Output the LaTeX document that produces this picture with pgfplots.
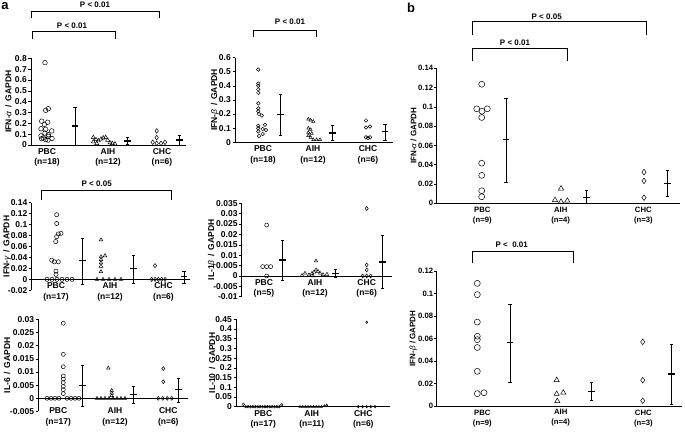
\documentclass[border=0pt]{standalone}
\usepackage{fontspec}
\setmainfont{Liberation Sans}
\usepackage{pgfplots}
\pgfplotsset{compat=1.18}
\newcommand{\gr}[1]{{\mdseries\itshape #1}}
\pgfplotsset{
 panel/.style={scale only axis, clip=false, anchor=south west,
   axis x line=middle, axis y line=left,
   axis line style={-, line width=0.6pt, black},
   hide obscured x ticks=false, hide obscured y ticks=false,
   xtick style={draw=none}, ytick style={line width=0.6pt, black},
   tick align=outside, major tick length=2.5pt, scaled ticks=false,
   /pgf/number format/assume math mode=true,
   xticklabel style={align=center, font=\fontsize{8.5}{10.3}\selectfont\bfseries, inner sep=1pt},
   yticklabel style={font=\fontsize{8.5}{10}\selectfont\bfseries, inner sep=1.5pt},
   ylabel style={font=\fontsize{8.5}{10}\selectfont\bfseries, anchor=center}},
 bpanel/.style={panel,
   xticklabel style={font=\fontsize{7.7}{10}\selectfont\bfseries},
   yticklabel style={font=\fontsize{7.7}{10}\selectfont\bfseries, inner sep=0.8pt},
   ylabel style={font=\fontsize{8}{10}\selectfont\bfseries}},
 pbc/.style={only marks, mark=o, black, mark options={line width=0.5pt}},
 aih/.style={only marks, mark=triangle, black, mark options={line width=0.5pt}},
 chc/.style={only marks, mark=diamond, black, mark options={line width=0.5pt}},
 sd/.style={black, only marks, mark=-, mark size=3.3pt, mark options={line width=1.1pt},
   error bars/y dir=both, error bars/y explicit,
   error bars/error bar style={line width=0.6pt},
   error bars/error mark options={rotate=90, line width=0.6pt, mark size=1.6pt}},
}
\begin{document}
\begin{tikzpicture}
\useasboundingbox (0pt,0pt) rectangle (685pt,431pt);

% ---------- a1 IFN-alpha
\begin{axis}[panel, at={(31pt,286pt)}, width=155pt, height=86.7pt,
  xmin=31, xmax=186, ymin=0, ymax=0.8,
  ytick={0,0.1,0.2,0.3,0.4,0.5,0.6,0.7,0.8}, yticklabels={0,0.1,0.2,0.3,0.4,0.5,0.6,0.7,0.8},
  xtick={47,108,162}, xticklabels={{PBC\\(n=18)},{AIH\\(n=12)},{CHC\\(n=6)}},
  ylabel={IFN-\gr{α} \,/\, GAPDH}, ylabel style={at={(axis description cs:-0.146,0.5)}}]
\addplot[pbc, mark size=2.3pt] coordinates {(45,0.76) (48.3,0.335) (45.7,0.32) (41.7,0.22) (47.7,0.21) (44.3,0.19) (41,0.15) (45.7,0.145) (51.7,0.13) (45,0.11) (48.3,0.095) (41,0.085) (48.3,0.08) (43.3,0.065) (41.7,0.058) (45.7,0.05) (52,0.06) (48,0.045)};
\addplot[aih, mark size=2.3pt] coordinates {(93.3,0.07) (96,0.05) (93.3,0.03) (98.3,0.04) (101,0.055) (103.3,0.065) (105.7,0.07) (107.7,0.045) (110,0.02) (112.3,0.015) (115,0.01) (96.7,0.015)};
\addplot[chc, mark size=2.3pt] coordinates {(156.7,0.13) (156.7,0.068) (152.7,0.025) (156.7,0.015) (161,0.015) (165,0.025)};
\addplot[sd] coordinates {(75,0.175) += (0,0.175) -= (0,0.175) (127.7,0.037) += (0,0.031) -= (0,0.031) (179.3,0.046) += (0,0.046) -= (0,0.046)};
\end{axis}

% ---------- a2 IFN-beta
\begin{axis}[panel, at={(235pt,288.7pt)}, width=158pt, height=84.7pt,
  xmin=235, xmax=393, ymin=0, ymax=0.6,
  ytick={0,0.1,0.2,0.3,0.4,0.5,0.6}, yticklabels={0,0.1,0.2,0.3,0.4,0.5,0.6},
  xtick={263,313,368}, xticklabels={{PBC\\(n=18)},{AIH\\(n=12)},{CHC\\(n=6)}},
  ylabel={IFN-\gr{β} \,/\, GAPDH}, ylabel style={at={(axis description cs:-0.127,0.5)}}]
\addplot[pbc, mark size=1.8pt] coordinates {(258.3,0.515) (258.3,0.417) (258.3,0.40) (258.3,0.375) (258.3,0.35) (258.3,0.276) (258.3,0.24) (258.3,0.22) (259,0.2) (261.7,0.19) (258.3,0.117) (265,0.124) (258.3,0.1) (262.7,0.094) (266,0.087) (258.3,0.077) (262.7,0.059) (259,0.045)};
\addplot[aih, mark size=1.8pt] coordinates {(308.3,0.164) (310.7,0.157) (313.3,0.148) (308.3,0.1) (310.7,0.09) (308.3,0.07) (311.7,0.063) (308.3,0.047) (310.7,0.035) (313.3,0.019) (316.7,0.019) (320,0.019)};
\addplot[pbc, mark size=1.8pt] coordinates {(366,0.155) (366,0.105) (370,0.112) (366,0.035) (370,0.035) (368,0.03)};
\addplot[sd] coordinates {(280.7,0.2) += (0,0.14) -= (0,0.153) (332.7,0.066) += (0,0.051) -= (0,0.05) (385,0.077) += (0,0.052) -= (0,0.061)};
\end{axis}

% ---------- a3 IFN-gamma
\begin{axis}[panel, at={(31.5pt,140.7pt)}, width=158.5pt, height=87.6pt,
  xmin=31.5, xmax=190, ymin=-0.02, ymax=0.14,
  ytick={-0.02,0,0.02,0.04,0.06,0.08,0.1,0.12,0.14}, yticklabels={-0.02,0,0.02,0.04,0.06,0.08,0.1,0.12,0.14},
  xtick={56,110,163.5}, xticklabels={{PBC\\(n=17)},{AIH\\(n=12)},{CHC\\(n=6)}},
  ylabel={IFN-\gr{γ} \,/\, GAPDH}, ylabel style={at={(axis description cs:-0.154,0.5)}}]
\addplot[pbc, mark size=2.1pt] coordinates {(56.7,0.118) (56.7,0.102) (58.3,0.083) (61,0.084) (56.7,0.078) (55.7,0.069) (51.7,0.035) (54.3,0.032) (58.3,0.032) (56,0.015) (56,0.009) (47,0) (52,0) (57,0) (62,0) (67,0) (72,0)};
\addplot[aih, mark size=2.1pt] coordinates {(101,0.072) (101,0.041) (105,0.043) (101,0.036) (101,0.030) (101,0.024) (101,0.014) (97,0) (103,0) (109,0) (115,0) (121,0)};
\addplot[chc, mark size=2.1pt] coordinates {(155,0.025) (151.7,0) (155,0) (158.3,0) (161.7,0) (165,0)};
\addplot[sd] coordinates {(82.5,0.034) += (0,0.041) -= (0,0.043) (133.3,0.02) += (0,0.024) -= (0,0.027) (184,0.005) += (0,0.009) -= (0,0.012)};
\end{axis}

% ---------- a4 IL-1beta
\begin{axis}[panel, at={(241.7pt,134.3pt)}, width=150.3pt, height=93.4pt,
  xmin=241.7, xmax=392, ymin=-0.01, ymax=0.035,
  ytick={-0.01,-0.005,0,0.005,0.01,0.015,0.02,0.025,0.03,0.035}, yticklabels={-0.01,-0.005,0,0.005,0.01,0.015,0.02,0.025,0.03,0.035},
  xtick={264,315,366.7}, xticklabels={{PBC\\(n=5)},{AIH\\(n=12)},{CHC\\(n=6)}},
  ylabel={IL-1\gr{β} \,/\, GAPDH}, ylabel style={at={(axis description cs:-0.198,0.5)}}]
\addplot[pbc, mark size=2pt] coordinates {(266.7,0.0245) (262.7,0.0045) (266.7,0.0045) (270.7,0.0045) (266.7,0)};
\addplot[aih, mark size=2pt] coordinates {(316,0.0072) (316,0.0029) (314,0.0019) (318,0.0022) (312,0.0012) (320,0.0013) (305,0.0013) (309,0.0005) (323,0.0006) (327,0.0008) (302,0.0002) (313,0)};
\addplot[chc, mark size=2pt] coordinates {(366.7,0.0325) (366.7,0.0053) (366.7,0.0029) (362.7,0) (366.7,0) (370.7,0)};
\addplot[sd] coordinates {(282.7,0.0077) += (0,0.0095) -= (0,0.0097) (335.7,0.0013) += (0,0.0019) -= (0,0.0021) (382.7,0.0067) += (0,0.0128) -= (0,0.0125)};
\end{axis}

% ---------- a5 IL-6
\begin{axis}[panel, at={(38.3pt,19.5pt)}, width=150pt, height=92.2pt,
  xmin=38.3, xmax=188.3, ymin=-0.005, ymax=0.03,
  ytick={-0.005,0,0.005,0.01,0.015,0.02,0.025,0.03}, yticklabels={-0.005,0,0.005,0.01,0.015,0.02,0.025,0.03},
  xtick={58.3,115,168.3}, xticklabels={{PBC\\(n=17)},{AIH\\(n=12)},{CHC\\(n=6)}},
  xticklabel style={yshift=-6pt},
  ylabel={IL-6 \,/\, GAPDH}, ylabel style={at={(axis description cs:-0.207,0.5)}}]
\addplot[pbc, mark size=2pt] coordinates {(63.3,0.0285) (63.3,0.0167) (63.3,0.012) (63.3,0.0085) (63.3,0.0073) (63.3,0.006) (63.3,0.0045) (63.3,0.0033) (63.3,0.0018) (47,0) (51,0) (55,0) (59,0) (67,0) (71,0) (75,0) (79,0)};
\addplot[aih, mark size=2pt] coordinates {(108.3,0.0115) (111.7,0.003) (111.7,0.002) (111.7,0.001) (97,0) (101,0) (105,0) (109,0) (113,0) (117,0) (121,0) (125,0)};
\addplot[chc, mark size=2pt] coordinates {(163.3,0.0113) (163.3,0.0063) (158.3,0) (162.7,0) (167.2,0) (171.7,0)};
\addplot[sd] coordinates {(82.7,0.0048) += (0,0.0077) -= (0,0.0078) (133.3,0.0016) += (0,0.0031) -= (0,0.0035) (178.3,0.0032) += (0,0.0044) -= (0,0.0048)};
\end{axis}

% ---------- a6 IL-10
\begin{axis}[panel, at={(236pt,24.3pt)}, width=154pt, height=87.4pt,
  xmin=236, xmax=390, ymin=0, ymax=0.45,
  ytick={0,0.05,0.1,0.15,0.2,0.25,0.3,0.35,0.4,0.45}, yticklabels={0,0.05,0.1,0.15,0.2,0.25,0.3,0.35,0.4,0.45},
  xtick={263.3,311.7,363.3}, xticklabels={{PBC\\(n=17)},{AIH\\(n=11)},{CHC\\(n=6)}},
  ylabel={IL-10 \,/\, GAPDH}, ylabel style={at={(axis description cs:-0.155,0.5)}}]
\addplot[pbc, mark size=1.3pt] coordinates {(243.3,0.012) (245.7,0) (248.1,0) (250.5,0) (252.9,0) (255.3,0) (257.7,0) (260.1,0) (262.5,0) (264.9,0) (267.3,0) (269.7,0) (272.1,0) (274.5,0) (276.9,0) (279.3,0) (281.7,0.01)};
\addplot[aih, mark size=1.3pt] coordinates {(300,0) (302.7,0) (305.4,0) (308.1,0) (310.8,0) (313.5,0) (316.2,0) (318.9,0) (321.6,0) (324.3,0.004) (326.7,0.008)};
\addplot[chc, mark size=1.3pt] coordinates {(366.7,0.435) (358.3,0) (362.5,0) (366.7,0) (370.8,0) (375,0)};
\end{axis}

% ---------- b1 IFN-alpha
\begin{axis}[bpanel, at={(436.7pt,227.7pt)}, width=243.3pt, height=135pt,
  xmin=436.7, xmax=680, ymin=0, ymax=0.14,
  ytick={0,0.02,0.04,0.06,0.08,0.1,0.12,0.14}, yticklabels={0,0.02,0.04,0.06,0.08,0.1,0.12,0.14},
  xtick={482.3,560.7,643.3}, xticklabels={{PBC\\(n=9)},{AIH\\(n=4)},{CHC\\(n=3)}},
  ylabel={IFN-\gr{α} / GAPDH}, ylabel style={at={(axis description cs:-0.095,0.5)}}]
\addplot[pbc, mark size=3pt] coordinates {(481.7,0.1235) (476.7,0.098) (482,0.0955) (487.3,0.098) (481.7,0.089) (481.7,0.0416) (481.7,0.029) (481.7,0.013) (481.7,0.0068)};
\addplot[aih, mark size=3pt] coordinates {(561,0.0153) (555,0.0034) (561,0.0017) (567.3,0.0027)};
\addplot[chc, mark size=2.8pt] coordinates {(644,0.0324) (644,0.0232) (644,0.0058)};
\addplot[sd] coordinates {(506,0.0665) += (0,0.0425) -= (0,0.0445) (586.7,0.0058) += (0,0.0072) -= (0,0.0058) (667.3,0.0205) += (0,0.0135) -= (0,0.0137)};
\end{axis}

% ---------- b2 IFN-beta
\begin{axis}[bpanel, at={(436.7pt,25pt)}, width=245pt, height=135pt,
  xmin=436.7, xmax=681.7, ymin=0, ymax=0.12,
  ytick={0,0.02,0.04,0.06,0.08,0.1,0.12}, yticklabels={0,0.02,0.04,0.06,0.08,0.1,0.12},
  xtick={482.3,560.7,643.3}, xticklabels={{PBC\\(n=9)},{AIH\\(n=4)},{CHC\\(n=3)}},
  ylabel={IFN-\gr{β} / GAPDH}, ylabel style={at={(axis description cs:-0.095,0.5)}}]
\addplot[pbc, mark size=3pt] coordinates {(477.3,0.109) (477.3,0.099) (477.3,0.0746) (477.3,0.062) (477.3,0.059) (477.3,0.052) (477.3,0.0308) (477.3,0.011) (484,0.0118)};
\addplot[aih, mark size=3pt] coordinates {(556.7,0.023) (556.7,0.0107) (563.3,0.0118) (557.3,0.0044)};
\addplot[chc, mark size=2.8pt] coordinates {(642.7,0.057) (642.7,0.023) (642.7,0.0047)};
\addplot[sd] coordinates {(510,0.0566) += (0,0.034) -= (0,0.0356) (591.7,0.0127) += (0,0.008) -= (0,0.008) (671.7,0.0284) += (0,0.0264) -= (0,0.0269)};
\end{axis}

% ---------- brackets and panel letters
\tikzset{pt/.style={font=\fontsize{8}{9}\selectfont\bfseries}}
\draw[line width=0.6pt] (31pt,413pt) -- (31pt,420pt) -- (159pt,420pt) -- (159pt,413pt);
\node[pt] at (95pt,426pt) {P < 0.01};
\draw[line width=0.6pt] (32pt,392pt) -- (32pt,399.3pt) -- (115pt,399.3pt) -- (115pt,392pt);
\node[pt] at (72pt,405pt) {P < 0.01};
\draw[line width=0.6pt] (253.3pt,393.7pt) -- (253.3pt,401pt) -- (316pt,401pt) -- (316pt,393.7pt);
\node[pt] at (290pt,409.3pt) {P < 0.01};
\draw[line width=0.6pt] (41pt,231pt) -- (41pt,241pt) -- (171pt,241pt) -- (171pt,231pt);
\node[pt] at (96.7pt,247.7pt) {P < 0.05};
\draw[line width=0.6pt] (472.3pt,396pt) -- (472.3pt,409.3pt) -- (646.7pt,409.3pt) -- (646.7pt,396pt);
\node[pt] at (546.7pt,414.3pt) {P < 0.05};
\draw[line width=0.6pt] (472.3pt,370.3pt) -- (472.3pt,382.7pt) -- (567.3pt,382.7pt) -- (567.3pt,370.3pt);
\node[pt] at (515pt,388.3pt) {P < 0.01};
\draw[line width=0.6pt] (472.3pt,168.3pt) -- (472.3pt,179.3pt) -- (573.3pt,179.3pt) -- (573.3pt,168.3pt);
\node[pt] at (511.7pt,186pt) {P <\ \ 0.01};
\node[font=\fontsize{13}{13}\selectfont\bfseries, inner sep=0.5pt] at (5pt,425pt) {a};
\node[font=\fontsize{13}{13}\selectfont\bfseries, inner sep=0.5pt] at (411pt,423pt) {b};
\end{tikzpicture}
\end{document}
